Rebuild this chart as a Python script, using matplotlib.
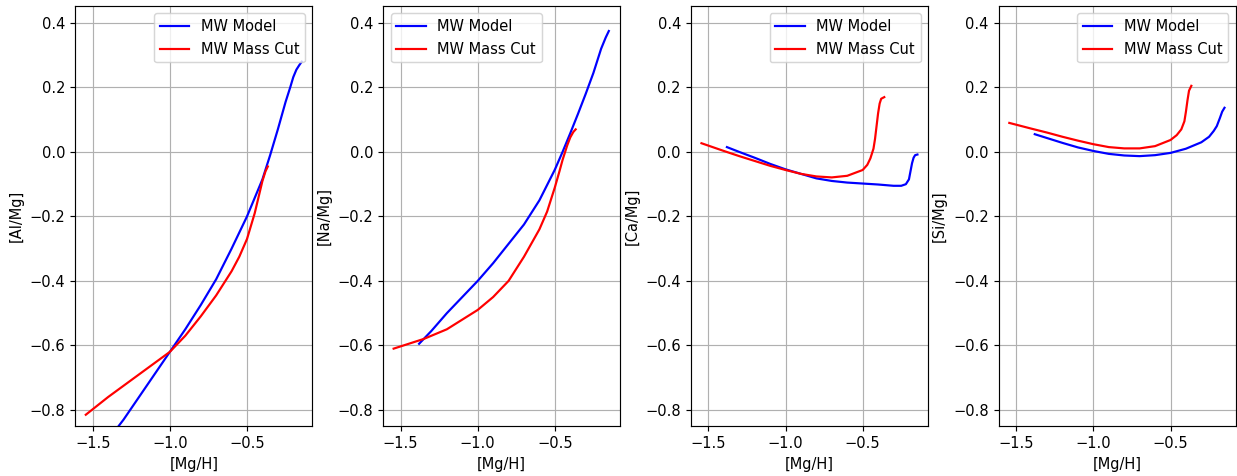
import numpy as np
import matplotlib
matplotlib.use("Agg")
import matplotlib.pyplot as plt

# [Al/Mg] vs [Mg/H]
al_model_x = [-1.38, -1.3, -1.2, -1.1, -1.0, -0.9, -0.8, -0.7, -0.6, -0.5, -0.4, -0.35, -0.3, -0.25, -0.22, -0.2, -0.18, -0.16, -0.145]
al_model_y = [-0.88, -0.83, -0.76, -0.69, -0.62, -0.55, -0.475, -0.395, -0.30, -0.20, -0.085, -0.01, 0.07, 0.155, 0.20, 0.232, 0.255, 0.27, 0.28]
al_cut_x = [-1.545, -1.4, -1.2, -1.1, -1.0, -0.9, -0.8, -0.7, -0.6, -0.55, -0.5, -0.45, -0.42, -0.4, -0.38, -0.365]
al_cut_y = [-0.815, -0.76, -0.69, -0.655, -0.62, -0.57, -0.51, -0.445, -0.37, -0.325, -0.27, -0.19, -0.13, -0.09, -0.06, -0.045]

# [Na/Mg] vs [Mg/H]
na_model_x = [-1.38, -1.3, -1.2, -1.1, -1.0, -0.9, -0.8, -0.7, -0.6, -0.5, -0.45, -0.4, -0.35, -0.3, -0.25, -0.2, -0.17, -0.15]
na_model_y = [-0.595, -0.555, -0.50, -0.45, -0.40, -0.345, -0.285, -0.225, -0.15, -0.055, 0.0, 0.058, 0.118, 0.18, 0.245, 0.32, 0.355, 0.375]
na_cut_x = [-1.545, -1.35, -1.2, -1.1, -1.0, -0.9, -0.8, -0.7, -0.6, -0.55, -0.5, -0.47, -0.45, -0.42, -0.4, -0.38, -0.365]
na_cut_y = [-0.61, -0.58, -0.55, -0.52, -0.49, -0.45, -0.40, -0.325, -0.24, -0.185, -0.11, -0.06, -0.025, 0.02, 0.045, 0.062, 0.07]

# [Ca/Mg] vs [Mg/H]
ca_model_x = [-1.38, -1.3, -1.2, -1.1, -1.0, -0.9, -0.8, -0.7, -0.6, -0.5, -0.4, -0.3, -0.25, -0.22, -0.2, -0.19, -0.18, -0.17, -0.16, -0.145]
ca_model_y = [0.015, 0.0, -0.018, -0.037, -0.054, -0.068, -0.082, -0.09, -0.095, -0.098, -0.101, -0.105, -0.105, -0.10, -0.085, -0.06, -0.035, -0.018, -0.01, -0.008]
ca_cut_x = [-1.545, -1.4, -1.3, -1.2, -1.1, -1.0, -0.9, -0.8, -0.7, -0.6, -0.5, -0.47, -0.45, -0.43, -0.42, -0.41, -0.4, -0.39, -0.38, -0.36]
ca_cut_y = [0.027, 0.003, -0.013, -0.028, -0.043, -0.056, -0.068, -0.076, -0.079, -0.074, -0.056, -0.04, -0.02, 0.01, 0.04, 0.08, 0.12, 0.15, 0.165, 0.17]

# [Si/Mg] vs [Mg/H]
si_model_x = [-1.38, -1.3, -1.2, -1.1, -1.0, -0.9, -0.8, -0.7, -0.6, -0.5, -0.4, -0.3, -0.25, -0.22, -0.2, -0.18, -0.165, -0.15]
si_model_y = [0.055, 0.043, 0.028, 0.014, 0.003, -0.006, -0.011, -0.013, -0.01, -0.003, 0.01, 0.03, 0.047, 0.065, 0.08, 0.105, 0.125, 0.137]
si_cut_x = [-1.545, -1.4, -1.3, -1.2, -1.1, -1.0, -0.9, -0.8, -0.7, -0.6, -0.5, -0.46, -0.43, -0.41, -0.4, -0.39, -0.38, -0.37, -0.365]
si_cut_y = [0.09, 0.072, 0.06, 0.047, 0.035, 0.024, 0.015, 0.011, 0.011, 0.018, 0.037, 0.052, 0.07, 0.095, 0.125, 0.16, 0.19, 0.2, 0.205]

panels = [
    ("[Al/Mg]", al_model_x, al_model_y, al_cut_x, al_cut_y, "upper right"),
    ("[Na/Mg]", na_model_x, na_model_y, na_cut_x, na_cut_y, "upper left"),
    ("[Ca/Mg]", ca_model_x, ca_model_y, ca_cut_x, ca_cut_y, "upper right"),
    ("[Si/Mg]", si_model_x, si_model_y, si_cut_x, si_cut_y, "upper right"),
]

fig, axes = plt.subplots(1, 4, figsize=(1237 / 105, 476 / 105), dpi=105)
fig.subplots_adjust(left=0.061, right=0.999, top=0.987, bottom=0.105, wspace=0.3)

for ax, (ylab, mx, my, cx, cy, loc) in zip(axes, panels):
    ax.plot(mx, my, color='b', label='MW Model')
    ax.plot(cx, cy, color='r', label='MW Mass Cut')
    ax.set_xlim(-1.612, -0.077)
    ax.set_ylim(-0.85, 0.452)
    ax.set_xticks([-1.5, -1.0, -0.5])
    ax.set_yticks(np.arange(-0.8, 0.41, 0.2))
    ax.grid(True)
    ax.set_xlabel('[Mg/H]')
    ax.set_ylabel(ylab)
    ax.legend(loc=loc)

plt.savefig('out.png')
